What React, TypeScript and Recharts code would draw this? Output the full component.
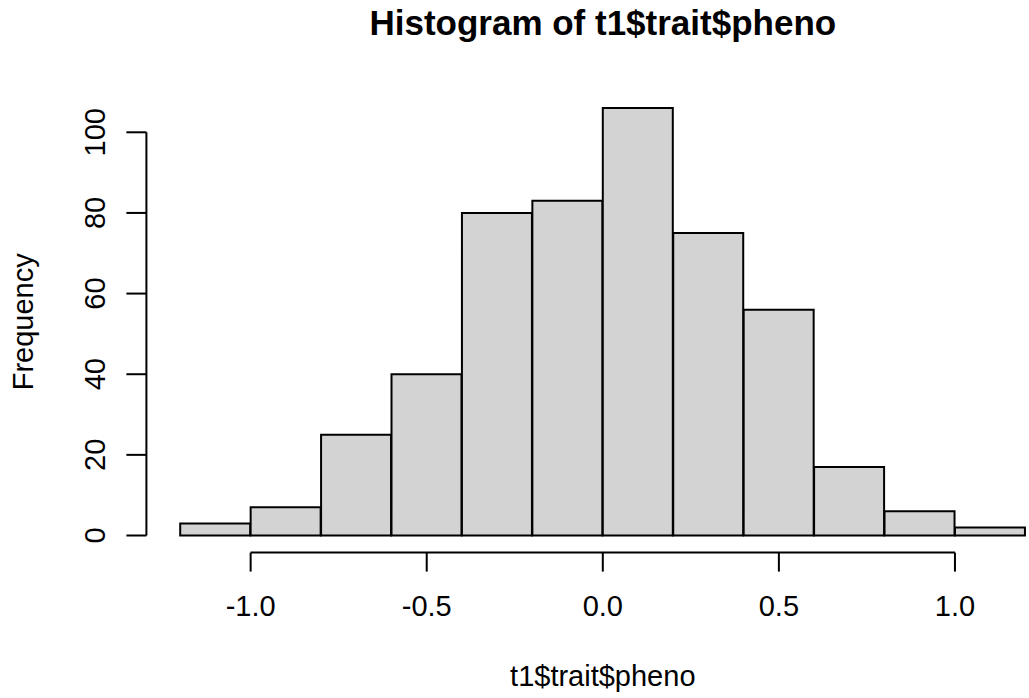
import { Bar, BarChart, ReferenceLine, XAxis, YAxis } from "recharts";

// histogram breaks and counts per bin
const breaks = [-1.2, -1.0, -0.8, -0.6, -0.4, -0.2, 0.0, 0.2, 0.4, 0.6, 0.8, 1.0, 1.2];
const counts = [3, 7, 25, 40, 80, 83, 106, 75, 56, 17, 6, 2];
const xTicks = [-1.0, -0.5, 0.0, 0.5, 1.0];
const yTicks = [0, 20, 40, 60, 80, 100];

const title = "Histogram of t1$trait$pheno";
const xLabel = "t1$trait$pheno";
const yLabel = "Frequency";

const rows = counts.map((count, i) => ({ mid: (breaks[i] + breaks[i + 1]) / 2, count }));

// base-graphics style: plot region padded 4% past the data range
const xMin = breaks[0];
const xMax = breaks[breaks.length - 1];
const xPad = (xMax - xMin) * 0.04;
const yMaxData = Math.max(...counts);
const yPad = yMaxData * 0.04;

const font = "'Liberation Sans', Arial, sans-serif";
const ink = "#000";

function YTick(props: any) {
  const { x, y, payload } = props;
  return (
    <text x={x} y={y} transform={`rotate(-90, ${x}, ${y})`} textAnchor="middle" fontSize={29} fontFamily={font} fill={ink}>
      {payload.value}
    </text>
  );
}

export default function App() {
  return (
    <div style={{ position: "fixed", left: 0, top: 0, width: 1029, height: 698, overflow: "hidden", background: "#fff" }}>
      <BarChart width={1100} height={698} data={rows} margin={{ top: 91, right: 40.8, bottom: 0, left: 0 }} barCategoryGap={0} barGap={0}>
        <XAxis
          dataKey="mid"
          type="number"
          domain={[xMin - xPad, xMax + xPad]}
          ticks={xTicks}
          allowDataOverflow
          height={145.4}
          axisLine={false}
          tickSize={19}
          tickMargin={24}
          tickLine={{ stroke: ink, strokeWidth: 2 }}
          tick={{ fill: ink, fontSize: 29, fontFamily: font }}
          tickFormatter={(v: number) => v.toFixed(1)}
          interval={0}
        />
        <YAxis
          type="number"
          domain={[-yPad, yMaxData + yPad]}
          ticks={yTicks}
          allowDataOverflow
          width={146.4}
          axisLine={false}
          tickSize={20}
          tickMargin={21.4}
          tickLine={{ stroke: ink, strokeWidth: 2 }}
          tick={<YTick />}
          interval={0}
        />
        <Bar dataKey="count" fill="#d3d3d3" stroke={ink} strokeWidth={2} isAnimationActive={false} />
        {/* axis lines run only between the outer ticks */}
        <ReferenceLine
          segment={[{ x: xTicks[0], y: -yPad }, { x: xTicks[xTicks.length - 1], y: -yPad }]}
          stroke={ink}
          strokeWidth={2}
          ifOverflow="visible"
        />
        <ReferenceLine
          segment={[{ x: xMin - xPad, y: yTicks[0] }, { x: xMin - xPad, y: yTicks[yTicks.length - 1] }]}
          stroke={ink}
          strokeWidth={2}
          ifOverflow="visible"
        />
        <text x={602.8} y={35} textAnchor="middle" fontSize={35} fontWeight="bold" fontFamily={font} fill={ink}>
          {title}
        </text>
        <text x={602.8} y={686} textAnchor="middle" fontSize={29} fontFamily={font} fill={ink}>
          {xLabel}
        </text>
        <text x={33} y={321.8} transform="rotate(-90, 33, 321.8)" textAnchor="middle" fontSize={29} fontFamily={font} fill={ink}>
          {yLabel}
        </text>
      </BarChart>
    </div>
  );
}
